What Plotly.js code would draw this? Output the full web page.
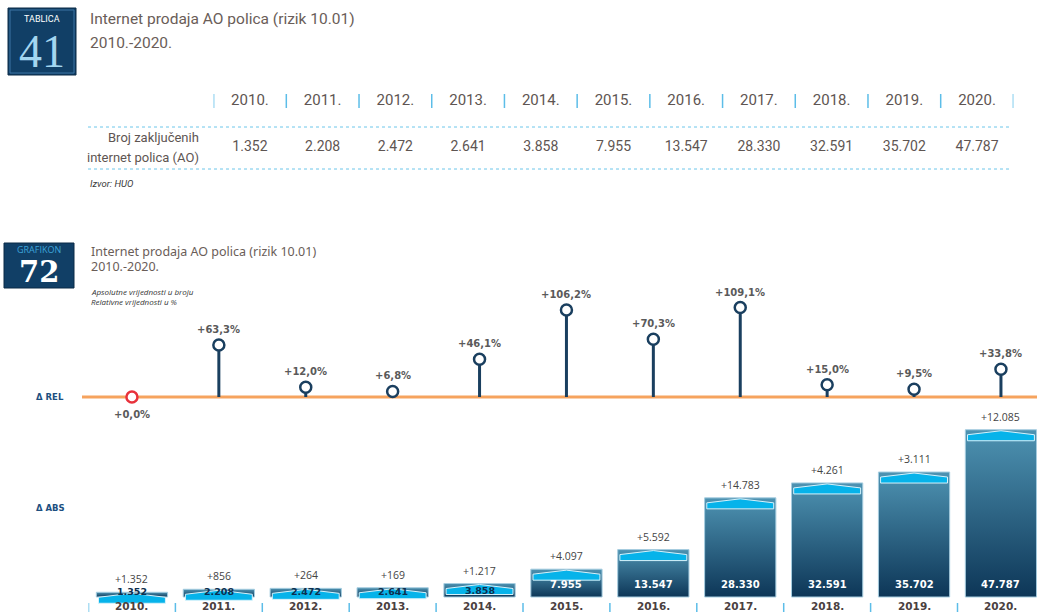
<!DOCTYPE html>
<html>
<head>
<meta charset="utf-8">
<script src="https://cdn.plot.ly/plotly-3.0.1.min.js"></script>
<style>
html,body{margin:0;padding:0;background:#fff;}
#chart{width:1037px;height:612px;}
</style>
</head>
<body>
<div id="chart"></div>
<script>
// ---------- DATA ----------
const years = ['2010.','2011.','2012.','2013.','2014.','2015.','2016.','2017.','2018.','2019.','2020.'];
const policies = [1352, 2208, 2472, 2641, 3858, 7955, 13547, 28330, 32591, 35702, 47787];
const absChange = [1352, 856, 264, 169, 1217, 4097, 5592, 14783, 4261, 3111, 12085];
const relChange = [0.0, 63.3, 12.0, 6.8, 46.1, 106.2, 70.3, 109.1, 15.0, 9.5, 33.8];

const tableTitle = 'Internet prodaja AO polica (rizik 10.01)';
const periodLabel = '2010.-2020.';
const rowLabel = ['Broj zaključenih', 'internet polica (AO)'];
const sourceLabel = 'Izvor: HUO';
const legendLines = ['Apsolutne vrijednosti u broju', 'Relativne vrijednosti u %'];

// ---------- HELPERS ----------
const W = 1037, H = 612;
const px = x => x / W;
const py = y => 1 - y / H;
const fmtInt = v => String(v).replace(/\B(?=(\d{3})+(?!\d))/g, '.');
const fmtPct = v => '+' + v.toFixed(1).replace('.', ',') + '%';

const COND = "Roboto, 'Liberation Sans', sans-serif";
const SANS = "'Open Sans', 'DejaVu Sans', sans-serif";
const BOLD = "'DejaVu Sans', 'Open Sans', sans-serif";
const NAVY = '#1a3f5f';
const TEXT_GRAY = '#5e5552';

// axis geometry
const yAbsRange = [-3000, 50000];
const yAbsDomain = [py(607.5), py(422)];
const unitsPerPx = (yAbsRange[1] - yAbsRange[0]) / ((yAbsDomain[1] - yAbsDomain[0]) * H);

const n = years.length;
const idx = years.map((_, i) => i);
const traces = [];

// ---------- TABLE (x2 / y3) ----------
traces.push({
  type: 'scatter', mode: 'text', xaxis: 'x2', yaxis: 'y3',
  x: idx, y: years.map(() => 1), text: years,
  textfont: {family: COND, size: 15, color: TEXT_GRAY},
  hoverinfo: 'skip', showlegend: false
});
traces.push({
  type: 'scatter', mode: 'text', xaxis: 'x2', yaxis: 'y3',
  x: idx, y: policies.map(() => 0), text: policies.map(fmtInt),
  textfont: {family: COND, size: 14, color: TEXT_GRAY},
  hoverinfo: 'skip', showlegend: false
});

// ---------- REL lollipops (x / y2) ----------
const stemX = [], stemY = [];
relChange.forEach((v, i) => { if (v > 0) { stemX.push(i, i, null); stemY.push(0, v, null); } });
traces.push({
  type: 'scatter', mode: 'lines', xaxis: 'x', yaxis: 'y2',
  x: stemX, y: stemY, line: {color: NAVY, width: 3},
  hoverinfo: 'skip', showlegend: false
});
traces.push({
  type: 'scatter', mode: 'markers', xaxis: 'x', yaxis: 'y2',
  x: idx, y: relChange,
  marker: {symbol: 'circle', size: 11, color: '#ffffff',
           line: {width: 2.5, color: relChange.map(v => v === 0 ? '#e8323c' : NAVY)}},
  hoverinfo: 'skip', showlegend: false
});

// ---------- ABS bars (x / y) ----------
const bw = 0.82;
policies.forEach((v, i) => {
  traces.push({
    type: 'scatter', mode: 'lines', xaxis: 'x', yaxis: 'y',
    x: [i - bw/2, i - bw/2, i + bw/2, i + bw/2, i - bw/2],
    y: [0, v, v, 0, 0],
    fill: 'toself', fillcolor: '#255f82',
    fillgradient: {type: 'vertical', colorscale: [[0, '#0d3657'], [1, '#4e93b2']]},
    line: {color: '#a6cde0', width: 1},
    hoverinfo: 'skip', showlegend: false
  });
});
// cyan highlight bands near bar tops
const bandX = [], bandY = [];
const hw = 0.385;
policies.forEach((v, i) => {
  const yb = v - 11 * unitsPerPx, ys = v - 5 * unitsPerPx, yt = v - 1 * unitsPerPx;
  bandX.push(i - hw, i - hw, i, i + hw, i + hw, i - hw, null);
  bandY.push(yb, ys, yt, ys, yb, yb, null);
});
traces.push({
  type: 'scatter', mode: 'lines', xaxis: 'x', yaxis: 'y',
  x: bandX, y: bandY, fill: 'toself', fillcolor: '#06b3ea',
  line: {color: '#d6f2fb', width: 1},
  hoverinfo: 'skip', showlegend: false
});

// ---------- ANNOTATIONS ----------
const ann = [];
function txt(x, y, text, font, extra) {
  ann.push(Object.assign({x: x, y: y, xref: 'paper', yref: 'paper', text: text, showarrow: false,
    font: font, xanchor: 'left', yanchor: 'middle'}, extra || {}));
}
// table header block
txt(px(88), py(19), tableTitle, {family: COND, size: 15.5, color: '#6a5d58'});
txt(px(88), py(43), periodLabel, {family: COND, size: 15.5, color: '#6a5d58'});
txt(px(42), py(19), 'TABLICA', {family: COND, size: 9, color: '#ffffff'}, {xanchor: 'center'});
txt(px(42), py(51), '41', {family: "'Liberation Serif', 'DejaVu Serif', serif", size: 46, color: '#a3d6f0'}, {xanchor: 'center'});
txt(px(201), py(138), rowLabel[0], {family: COND, size: 13, color: TEXT_GRAY}, {xanchor: 'right'});
txt(px(201), py(157), rowLabel[1], {family: COND, size: 13, color: TEXT_GRAY}, {xanchor: 'right'});
txt(px(88), py(183), '<i>' + sourceLabel + '</i>', {family: COND, size: 9.5, color: '#3a3a3a'});

// chart header block
txt(px(89), py(251), tableTitle, {family: "'Noto Sans', sans-serif", size: 12.5, color: '#6a5d58'});
txt(px(89), py(266), periodLabel, {family: "'Noto Sans', sans-serif", size: 12.5, color: '#6a5d58'});
txt(px(39), py(249), 'GRAFIKON', {family: SANS, size: 9, color: '#3da4da'}, {xanchor: 'center'});
txt(px(39), py(272), '<b>72</b>', {family: "'DejaVu Serif', serif", size: 29, color: '#ffffff'}, {xanchor: 'center'});
txt(px(89), py(291), '<i>' + legendLines[0] + '</i>', {family: SANS, size: 8, color: '#333333'});
txt(px(89), py(301), '<i>' + legendLines[1] + '</i>', {family: SANS, size: 8, color: '#333333'});
txt(px(34), py(397), '<b>Δ REL</b>', {family: BOLD, size: 8.5, color: '#1d4f80'});
txt(px(34), py(508), '<b>Δ ABS</b>', {family: BOLD, size: 8.5, color: '#1d4f80'});

// lollipop labels
relChange.forEach((v, i) => {
  if (v > 0) {
    ann.push({x: i, y: v, xref: 'x', yref: 'y2', text: '<b>' + fmtPct(v) + '</b>', showarrow: false,
      yanchor: 'bottom', yshift: 8, font: {family: BOLD, size: 10, color: '#5a5a5a'}});
  } else {
    ann.push({x: i, y: v, xref: 'x', yref: 'y2', text: '<b>' + fmtPct(v) + '</b>', showarrow: false,
      yanchor: 'top', yshift: -10, font: {family: BOLD, size: 10, color: '#5a5a5a'}});
  }
});
// bar labels
policies.forEach((v, i) => {
  const hPx = v / unitsPerPx;
  ann.push({x: i, y: v, xref: 'x', yref: 'y', text: '+' + fmtInt(absChange[i]), showarrow: false,
    yanchor: 'bottom', yshift: 4, font: {family: SANS, size: 10.5, color: '#444444'}});
  if (v > 5000) {
    ann.push({x: i, y: 0, xref: 'x', yref: 'y', text: '<b>' + fmtInt(v) + '</b>', showarrow: false,
      yanchor: 'middle', yshift: 13, font: {family: BOLD, size: 10, color: '#ffffff'}});
  } else {
    ann.push({x: i, y: 0, xref: 'x', yref: 'y', text: '<b>' + fmtInt(v) + '</b>', showarrow: false,
      yanchor: 'middle', yshift: Math.max(5.5, hPx - 7), font: {family: BOLD, size: 9.5, color: '#0d2f4f'}});
  }
  ann.push({x: i, y: py(606), xref: 'x', yref: 'paper', text: '<b>' + years[i] + '</b>', showarrow: false,
    yanchor: 'middle', font: {family: BOLD, size: 10.5, color: '#4a4040'}});
});

// ---------- SHAPES ----------
const shapes = [];
// badges
shapes.push({type: 'rect', xref: 'paper', yref: 'paper', x0: px(8), x1: px(76), y0: py(75), y1: py(8),
  fillcolor: '#113f66', line: {color: '#0a2a47', width: 1}, layer: 'below'});
shapes.push({type: 'rect', xref: 'paper', yref: 'paper', x0: px(10), x1: px(74), y0: py(73), y1: py(10),
  fillcolor: 'rgba(0,0,0,0)', line: {color: '#3d74a3', width: 1}, layer: 'below'});
shapes.push({type: 'rect', xref: 'paper', yref: 'paper', x0: px(4), x1: px(74), y0: py(288), y1: py(243),
  fillcolor: '#113f66', line: {color: '#0a2a47', width: 1}, layer: 'below'});
// table separators and dotted rules
for (let k = 0; k <= n; k++) {
  shapes.push({type: 'line', xref: 'x2', yref: 'paper', x0: k - 0.5, x1: k - 0.5, y0: py(108), y1: py(94),
    line: {color: '#5cbde8', width: 1.5}});
}
[127, 169].forEach(y => shapes.push({type: 'line', xref: 'paper', yref: 'paper', x0: px(88), x1: px(1012),
  y0: py(y), y1: py(y), line: {color: '#6cc6ea', width: 1, dash: 'dot'}}));
// orange baseline for relative changes
shapes.push({type: 'line', xref: 'paper', yref: 'y2', x0: px(82), x1: 1, y0: 0, y1: 0,
  line: {color: '#f6a35e', width: 3}, layer: 'below'});
// separators under bars
for (let k = 0; k <= n; k++) {
  shapes.push({type: 'line', xref: 'x', yref: 'paper', x0: k - 0.5, x1: k - 0.5, y0: 0, y1: py(603),
    line: {color: '#5cbde8', width: 1.5}});
}

const layout = {
  width: W, height: H,
  margin: {l: 0, r: 0, t: 0, b: 0},
  paper_bgcolor: '#ffffff', plot_bgcolor: 'rgba(0,0,0,0)',
  showlegend: false,
  xaxis: {domain: [px(88.5), 1], range: [-0.5, -0.5 + (W - 88.5) / 86.9], visible: false, fixedrange: true, anchor: 'y'},
  yaxis: {domain: yAbsDomain, range: yAbsRange, visible: false, fixedrange: true, anchor: 'x'},
  yaxis2: {domain: [py(413.4), py(290.4)], range: [-20, 130], visible: false, fixedrange: true, anchor: 'x'},
  xaxis2: {domain: [px(213.6), px(1013.4)], range: [-0.5, 10.5], visible: false, fixedrange: true, anchor: 'y3'},
  yaxis3: {domain: [py(157.4), py(91.6)], range: [-0.2, 1.2], visible: false, fixedrange: true, anchor: 'x2'},
  annotations: ann,
  shapes: shapes
};

Plotly.newPlot('chart', traces, layout, {staticPlot: true, displayModeBar: false});
</script>
</body>
</html>
